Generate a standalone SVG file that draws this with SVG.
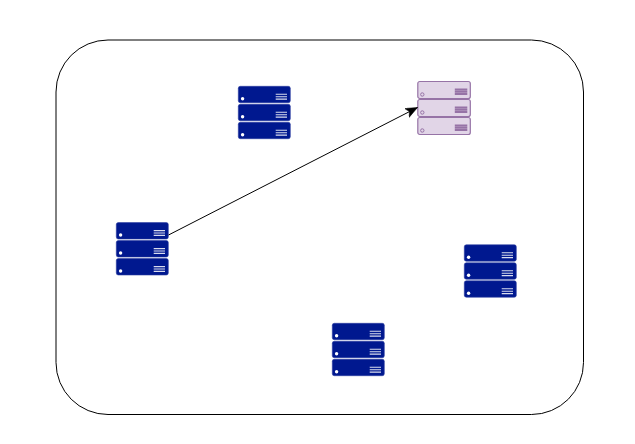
<svg xmlns="http://www.w3.org/2000/svg" width="635" height="444" viewBox="0 0 635 444">
<style>
.u{fill:#00188f;stroke:#2a3d9f;stroke-width:.6}
.d{fill:#fff}
.l{stroke:#fff;stroke-width:1.1;opacity:.85}
.pu{fill:#e1d5e7;stroke:#9673a6;stroke-width:1.2}
.pd{fill:#e1d5e7;stroke:#9673a6;stroke-width:1}
.pl{stroke:#9673a6;stroke-width:2}
</style>
<defs>
<g id="srv">
<rect class="u" x="0.3" y="0.3" width="52" height="16.4" rx="2"/>
<circle class="d" cx="4.6" cy="12.7" r="1.7"/>
<path class="l" d="M37.700 8.300H49M37.700 10.700H49M37.700 13.100H49"/>
</g>
<g id="stack">
<use href="#srv"/>
<use href="#srv" y="18"/>
<use href="#srv" y="36"/>
</g>
<g id="psrv">
<rect class="pu" x="0" y="0" width="52.500" height="17" rx="2"/>
<circle class="pd" cx="4.500" cy="13" r="1.700"/>
<path class="pl" d="M37 8H49.500M37 10.300H49.500M37 12.600H49.500"/>
</g>
<marker id="arrow" markerUnits="userSpaceOnUse" markerWidth="14" markerHeight="12" refX="12" refY="5" orient="auto">
<path d="M0 0L12 5L0 10L3 5Z" fill="#000" stroke="#000" stroke-width=".5"/>
</marker>
</defs>
<rect id="container" x="56" y="40" width="527.500" height="374.500" rx="52" fill="#fff" stroke="#000"/>
<g id="server-top"><use href="#stack" x="238" y="86"/></g>
<g id="server-target">
<use href="#psrv" x="417.800" y="81.500"/>
<use href="#psrv" x="417.800" y="99.500"/>
<use href="#psrv" x="417.800" y="117.500"/>
</g>
<g id="server-left"><use href="#stack" x="116" y="222.300"/></g>
<g id="server-right"><use href="#stack" x="464" y="244.500"/></g>
<g id="server-bottom"><use href="#stack" x="332" y="323"/></g>
<g id="connectors">
<path d="M168.500 235L417.500 107.500" fill="none" stroke="#000" marker-end="url(#arrow)"/>
</g>
</svg>
